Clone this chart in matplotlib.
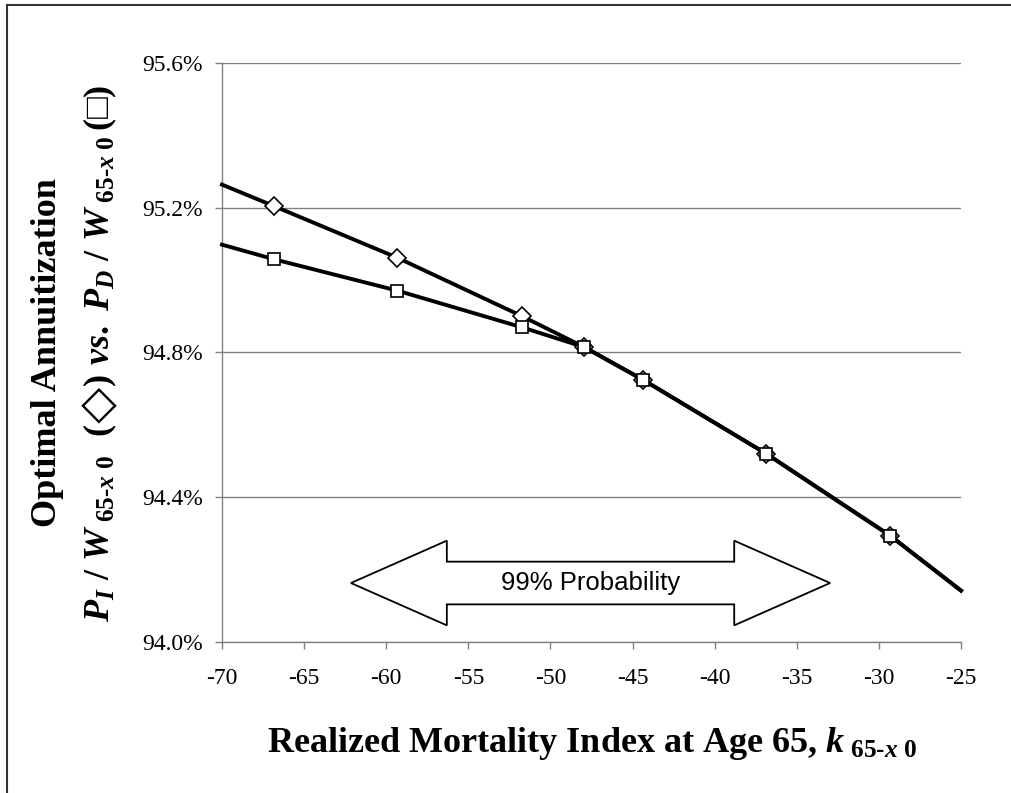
import numpy as np
import matplotlib
matplotlib.use("Agg")
import matplotlib.pyplot as plt
from matplotlib.lines import Line2D
from matplotlib.patches import Polygon

# data (x = realized mortality index, y = optimal annuitization in %)
k_diamond = [-70.0, -66.86, -59.33, -51.76, -47.95, -44.34, -36.85, -29.32, -25.0]
p_diamond = [95.264, 95.205, 95.062, 94.901, 94.815, 94.724, 94.520, 94.294, 94.142]
k_square = [-70.0, -66.86, -59.33, -51.76, -47.95, -44.34, -36.85, -29.32, -25.0]
p_square = [95.098, 95.058, 94.971, 94.870, 94.815, 94.724, 94.520, 94.294, 94.142]

# 99% probability band shown by the double arrow
prob_lo, prob_hi = -62.15, -32.97
prob_y = 94.163

x_ticks = [-70, -65, -60, -55, -50, -45, -40, -35, -30, -25]
y_ticks = [94.0, 94.4, 94.8, 95.2, 95.6]

plt.rcParams['mathtext.fontset'] = 'custom'
plt.rcParams['mathtext.rm'] = 'Liberation Serif:bold'
plt.rcParams['mathtext.it'] = 'Liberation Serif:italic:bold'
plt.rcParams['mathtext.bf'] = 'Liberation Serif:bold'
plt.rcParams['mathtext.fallback'] = 'stix'

grey = '#808080'

fig = plt.figure(figsize=(10.11, 7.93), dpi=100)
ax = fig.add_axes([222 / 1011, 1 - 642 / 793, 739 / 1011, 579 / 793])

ax.plot(k_square, p_square, color='black', lw=2.8, zorder=3, clip_on=False)
ax.plot(k_diamond, p_diamond, color='black', lw=2.8, zorder=3, clip_on=False)
ax.plot(k_diamond[1:-1], p_diamond[1:-1], ls='none', marker='D', ms=9.2,
        mfc='white', mec='black', mew=1.2, zorder=4, clip_on=False)
ax.plot(k_square[1:-1], p_square[1:-1], ls='none', marker='s', ms=9,
        mfc='white', mec='black', mew=1.2, zorder=5, clip_on=False)

# double arrow
head = 5.84
shaft_h = 0.059
head_h = 0.117
arrow_pts = [
    (prob_lo, prob_y),
    (prob_lo + head, prob_y + head_h),
    (prob_lo + head, prob_y + shaft_h),
    (prob_hi - head, prob_y + shaft_h),
    (prob_hi - head, prob_y + head_h),
    (prob_hi, prob_y),
    (prob_hi - head, prob_y - head_h),
    (prob_hi - head, prob_y - shaft_h),
    (prob_lo + head, prob_y - shaft_h),
    (prob_lo + head, prob_y - head_h),
]
ax.add_patch(Polygon(arrow_pts, closed=True, fc='white', ec='black', lw=1.3, zorder=6))
ax.text((prob_lo + prob_hi) / 2, prob_y, '99% Probability', ha='center', va='center',
        fontsize=18.5, family='Liberation Sans', zorder=7)

ax.set_xlim(-70, -25)
ax.set_ylim(94.0, 95.6)
ax.set_xticks(x_ticks)
ax.set_yticks(y_ticks)
ax.set_xticklabels([str(v) for v in x_ticks])
ax.set_yticklabels(['%.1f%%' % v for v in y_ticks])
for lab in ax.get_xticklabels() + ax.get_yticklabels():
    lab.set_family('Liberation Serif')
    lab.set_fontsize(17)
ax.tick_params(axis='both', direction='out', length=5, width=1, color=grey)
ax.tick_params(axis='y', pad=9)
ax.tick_params(axis='x', pad=14)

ax.grid(axis='y', color=grey, lw=1)
ax.set_axisbelow(True)
for s in ['top', 'right']:
    ax.spines[s].set_visible(False)
for s in ['left', 'bottom']:
    ax.spines[s].set_color(grey)
    ax.spines[s].set_linewidth(1)

fig.text(592 / 1011, 1 - 743 / 793,
         r'Realized Mortality Index at Age 65, $k_{\ 65\text{-}x\ 0}$',
         ha='center', va='center', fontsize=26, family='Liberation Serif', weight='bold')
fig.text(48 / 1011, 1 - 353 / 793, 'Optimal Annuitization', rotation=90,
         ha='center', va='center', fontsize=26, family='Liberation Serif', weight='bold')
fig.text(100 / 1011, 1 - 353 / 793,
         r'$P_I\ /\ W_{\ 65\text{-}x\ 0}\ \ (◇)\ vs.\ P_D\ /\ W_{\ 65\text{-}x\ 0}\,(□)$',
         rotation=90, ha='center', va='center', fontsize=26, family='Liberation Serif')

# outer frame (left and top edges)
fig.add_artist(Line2D([7 / 1011, 7 / 1011], [0, 1 - 5 / 793], transform=fig.transFigure,
                      color='#333333', lw=1.5))
fig.add_artist(Line2D([7 / 1011, 1], [1 - 5 / 793, 1 - 5 / 793], transform=fig.transFigure,
                      color='#333333', lw=1.5))

fig.savefig('out.png', dpi=100)
